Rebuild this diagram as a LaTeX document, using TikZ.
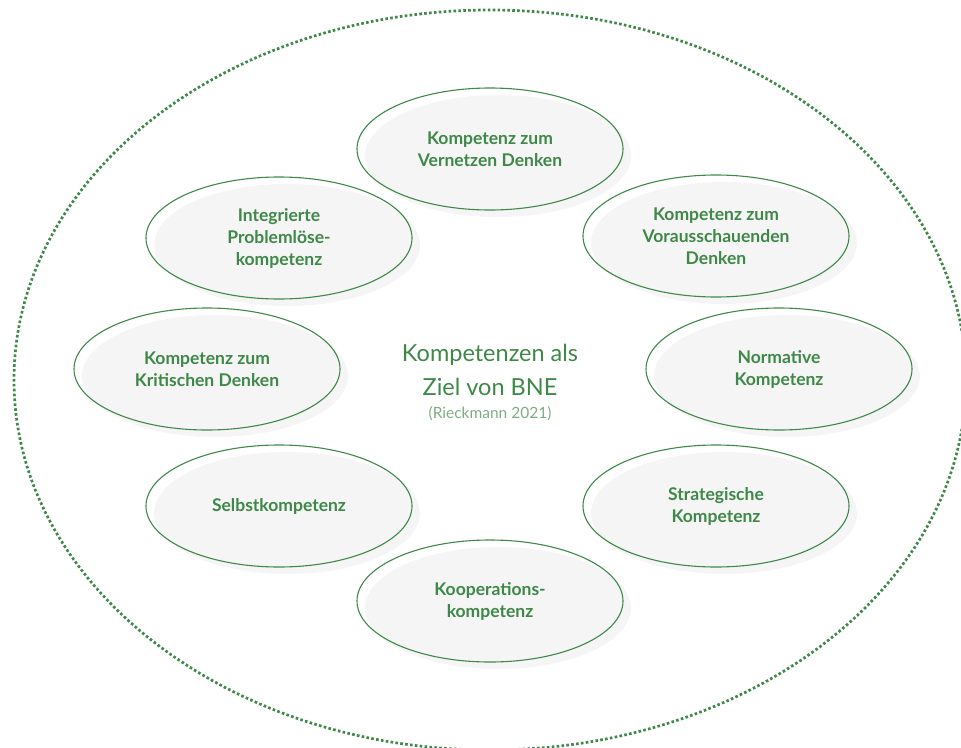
\documentclass[tikz,border=0pt]{standalone}
\usepackage{fontspec}
\setmainfont{Lato}
\usetikzlibrary{shapes.geometric,shadows}
\definecolor{bnegreen}{RGB}{62,136,72}
\definecolor{bnelight}{RGB}{125,172,130}
\tikzset{komp/.style={ellipse,draw=bnegreen,line width=1.1pt,minimum width=266pt,minimum height=122pt,
  inner sep=0pt,align=center,text=bnegreen,font=\fontsize{17.5}{22}\selectfont\bfseries,
  drop shadow={shadow xshift=8pt,shadow yshift=-7pt,fill=black!4,opacity=1}}}
\begin{document}
\begin{tikzpicture}[x=1pt,y=-1pt]
\useasboundingbox (0,0) rectangle (961,747);
\draw[bnegreen,line width=2.7pt,dash pattern=on 2.6pt off 2.3pt] (490,380) ellipse [x radius=476, y radius=370];
\node[komp] (vernetzen) at (490,149) {Kompetenz zum\\Vernetzen Denken};
\node[komp] (voraus) at (716,236) {Kompetenz zum\\Vorausschauenden\\Denken};
\node[komp] (normativ) at (779,369) {Normative\\Kompetenz};
\node[komp] (strategisch) at (716,506) {Strategische\\Kompetenz};
\node[komp] (kooperation) at (490,601) {Kooperations-\\kompetenz};
\node[komp] (selbst) at (279,506) {Selbstkompetenz};
\node[komp] (kritisch) at (207,369) {Kompetenz zum\\Kritischen Denken};
\node[komp] (problem) at (279,238) {Integrierte\\Problemlöse-\\kompetenz};
\node[align=center,text=bnegreen,font=\fontsize{23.5}{34}\selectfont] (titel) at (490,370) {Kompetenzen als\\Ziel von BNE};
\node[text=bnelight,font=\fontsize{15.5}{18}\selectfont] (quelle) at (490,414) {(Rieckmann 2021)};
\end{tikzpicture}
\end{document}
